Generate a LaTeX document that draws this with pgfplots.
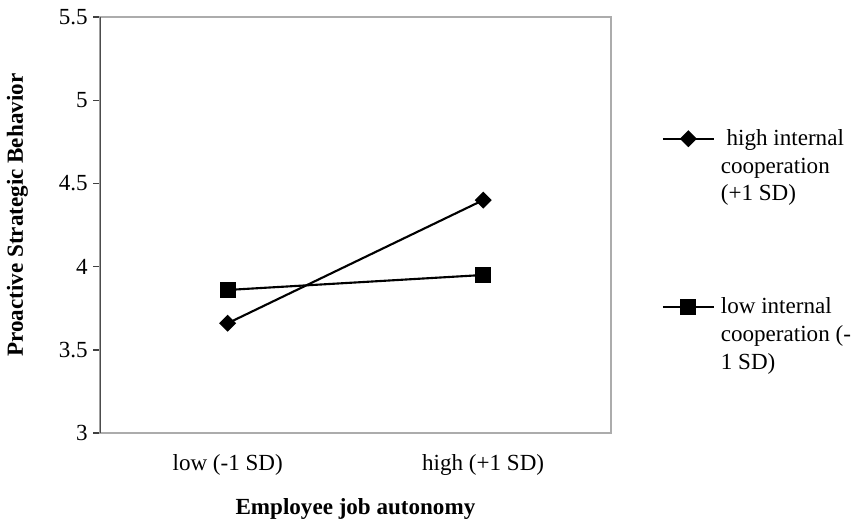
\documentclass[border=0pt]{standalone}
\usepackage{fontspec}
\setmainfont{Liberation Serif}
\usepackage{pgfplots}
\pgfplotsset{compat=1.18}
\begin{document}
\fontsize{12}{14.5}\selectfont
\begin{tikzpicture}
\begin{axis}[
  name=ax,
  scale only axis,
  width=265.7pt, height=216.3pt,
  xmin=-0.5, xmax=1.5,
  ymin=3, ymax=5.5,
  xtick={0,1},
  xticklabels={low (-1 SD), high (+1 SD)},
  ytick={3,3.5,4,4.5,5,5.5},
  yticklabels={3,3.5,4,4.5,5,5.5},
  tick align=outside,
  ytick pos=left,
  xtick pos=bottom,
  xtick style={draw=none},
  ytick style={black!75, line width=0.8pt},
  major tick length=3.6pt,
  axis line style={gray!65, line width=1pt},
  tick label style={font=\fontsize{12}{14.5}\selectfont},
  yticklabel style={anchor=east, inner sep=0pt, xshift=-2.6pt},
  xticklabel style={anchor=center, inner sep=0pt, yshift=-13pt},
  xlabel={\textbf{Employee job autonomy}},
  ylabel={\textbf{Proactive Strategic Behavior}},
  xlabel style={at={([yshift=-39.5pt]axis description cs:0.5,0)}, anchor=center, inner sep=0pt},
  ylabel style={at={([xshift=-43pt]axis description cs:0,0.524)}, anchor=center, rotate=0, inner sep=0pt},
  label style={font=\fontsize{12}{14.5}\selectfont},
  legend cell align=left,
  legend style={draw=none, fill=none, at={(1.0997,0.739)}, anchor=north west,
    inner sep=0pt, outer sep=0pt, nodes={inner sep=0pt, outer sep=0pt},
    cells={anchor=west},
    column sep=3.1pt, row sep=61pt, font=\fontsize{12}{14.5}\selectfont},
  legend image code/.code={\draw[#1, mark repeat=2, mark phase=2] plot coordinates {(0pt,6.5pt) (13.25pt,6.5pt) (26.5pt,6.5pt)};},
]
\addplot[black, line width=1.1pt, mark=square*, mark size=2.58pt, mark options={rotate=45, solid}] coordinates {(0,3.66) (1,4.40)};
\addlegendentry{\begin{tabular}{@{}l@{}}\ high internal\\cooperation\\(+1 SD)\end{tabular}}
\addplot[black, line width=1.1pt, mark=square*, mark size=3.6pt, mark options={solid}] coordinates {(0,3.86) (1,3.95)};
\addlegendentry{\begin{tabular}{@{}l@{}}low internal\\cooperation (-\\1 SD)\end{tabular}}
\draw[black!70, line width=1pt] (rel axis cs:0,0) -- (rel axis cs:0,1);
\end{axis}
\pgfresetboundingbox
\path (ax.south west) ++(-52pt,-44.7pt) rectangle ++(446.2pt,269.9pt);
\end{tikzpicture}
\end{document}
